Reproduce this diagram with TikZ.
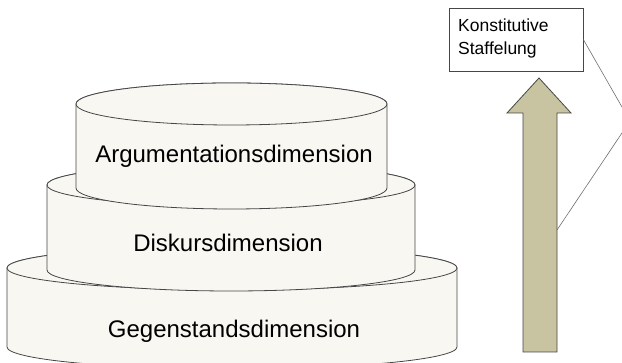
\documentclass[tikz,border=0pt]{standalone}
\usepackage{fontspec}
\setmainfont{Liberation Sans}
\definecolor{cakefill}{RGB}{248,247,242}
\definecolor{cakeline}{RGB}{70,70,70}
\definecolor{arrowfill}{RGB}{200,195,160}
\definecolor{callline}{RGB}{110,110,110}
\tikzset{
  cake/.style={fill=cakefill, draw=cakeline, line width=0.8pt},
  layertext/.style={font=\fontsize{24}{28}\selectfont, anchor=base, inner sep=0pt},
  labelbox/.style={draw=cakeline, fill=white, line width=0.7pt, inner sep=0pt},
  calloutline/.style={draw=callline, line width=0.6pt}
}
% cylinder: centre x, half width, top centre y, bottom centre y, ellipse half height
\newcommand{\cakelayer}[5]{%
  \path[cake] (#1-#2,#3) -- (#1-#2,#4)
     arc[start angle=180, end angle=360, x radius=#2pt, y radius=#5pt]
     -- (#1+#2,#3)
     arc[start angle=0, end angle=180, x radius=#2pt, y radius=#5pt] -- cycle;
  \path[cake] (#1,#3) ellipse[x radius=#2pt, y radius=#5pt];
}
\begin{document}
\begin{tikzpicture}[x=1pt, y=1pt]
\useasboundingbox (0,0) rectangle (622,363);
\clip (0,0) rectangle (622,363);

% three stacked layers, lowest first
\cakelayer{232}{225}{95}{16}{22}
\cakelayer{231}{184}{178}{93}{21}
\cakelayer{231.5}{155.5}{259}{175}{21}

\node[layertext] (arg) at (234,200) {Argumentationsdimension};
\node[layertext] (disk) at (228,111) {Diskursdimension};
\node[layertext] (geg) at (234,25) {Gegenstandsdimension};

% upward arrow
\path[fill=arrowfill, draw=cakeline, line width=0.8pt]
  (523,11) -- (523,250) -- (507,250) -- (539,285) -- (571,250)
  -- (557,250) -- (557,11) -- cycle;
\coordinate (shaftedge) at (557,133);

% label box
\node[labelbox, minimum width=134pt, minimum height=63pt] (box) at (516,323.5) {};
\node[anchor=base west, inner sep=0pt, font=\fontsize{17.5}{23}\selectfont] (l1) at (458,331) {Konstitutive};
\node[anchor=base west, inner sep=0pt, font=\fontsize{17.5}{23}\selectfont] (l2) at (458,308) {Staffelung};

% callout bracket running off to the right
\coordinate (apex) at (630,242);
\draw[calloutline] (box.east) -- (apex) -- (shaftedge);
\end{tikzpicture}
\end{document}
